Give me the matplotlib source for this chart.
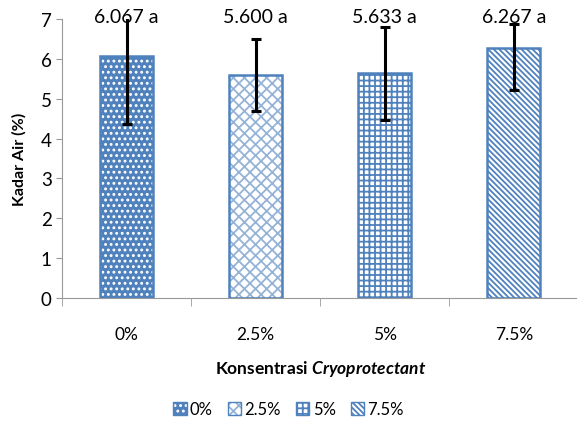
import matplotlib.pyplot as plt
import numpy as np
from matplotlib.patches import Patch
from matplotlib.legend_handler import HandlerTuple

plt.rcParams["font.family"] = ["Lato", "DejaVu Sans"]
plt.rcParams["mathtext.fontset"] = "custom"
plt.rcParams["mathtext.it"] = "Lato:italic:bold"
plt.rcParams["hatch.linewidth"] = 1.3

categories = ["0%", "2.5%", "5%", "7.5%"]
values = [6.067, 5.600, 5.633, 6.267]
err_low = [1.71, 0.91, 1.18, 1.06]
err_high = [1.71, 0.89, 1.16, 0.60]
letters = ["a", "a", "a", "a"]

blue = "#4F81BD"
light = "#95B3D7"
hatches = ["...", "xxx", "+++", "\\\\\\\\\\\\"]
faces = [blue, "white", "white", "white"]
hatch_cols = ["white", light, blue, blue]

fig = plt.figure(figsize=(5.77, 4.35), dpi=100)
ax = fig.add_axes([0.1075, 0.313, 0.895, 0.641])

x = np.arange(len(categories))
for i in range(len(categories)):
    ax.bar(x[i], values[i], width=0.41, color=faces[i], edgecolor=hatch_cols[i],
           hatch=hatches[i], linewidth=0)
    ax.bar(x[i], values[i], width=0.41, fill=False, edgecolor=blue, linewidth=1.8)

ax.errorbar(x, values, yerr=[err_low, err_high], fmt="none", ecolor="black",
            elinewidth=2.2, capsize=3.5, capthick=2.2)

for xi, v, l in zip(x, values, letters):
    ax.text(xi, 7.06, f"{v:.3f} {l}", ha="center", va="center", fontsize=14,
            clip_on=False)

ax.set_xlim(-0.5, 3.5)
ax.set_ylim(0, 7)
ax.set_yticks(range(8))
ax.set_xticks(x)
ax.set_xticklabels(categories)
ax.set_xticks(np.arange(-0.5, 3.6, 1), minor=True)
ax.tick_params(axis="x", which="major", length=0, labelsize=12.5, pad=20)
ax.tick_params(axis="x", which="minor", length=6, color="#999999")
ax.tick_params(axis="y", length=4, color="#999999", labelsize=13.5)
for s in ["top", "right"]:
    ax.spines[s].set_visible(False)
ax.spines["left"].set_color("#999999")
ax.spines["bottom"].set_color("#999999")

ax.set_ylabel("Kadar Air (%)", fontsize=11.5, fontweight="bold", labelpad=10)
ax.set_xlabel("Konsentrasi $Cryoprotectant$", fontsize=12.5, fontweight="bold", labelpad=12)

# legend keys: hatch layer + blue outline layer
handles = []
for i, c in enumerate(categories):
    fill = Patch(facecolor=faces[i], edgecolor=hatch_cols[i], hatch=hatches[i], linewidth=0)
    edge = Patch(fill=False, edgecolor=blue, linewidth=1.0)
    handles.append((fill, edge))
fig.legend(handles=handles, labels=categories, loc="center", bbox_to_anchor=(0.5, 0.057),
           ncol=4, frameon=False, fontsize=12, handlelength=0.8, handleheight=0.8,
           handletextpad=0.2, columnspacing=0.9,
           handler_map={tuple: HandlerTuple(ndivide=1)})

fig.savefig("out.png", dpi=100)
